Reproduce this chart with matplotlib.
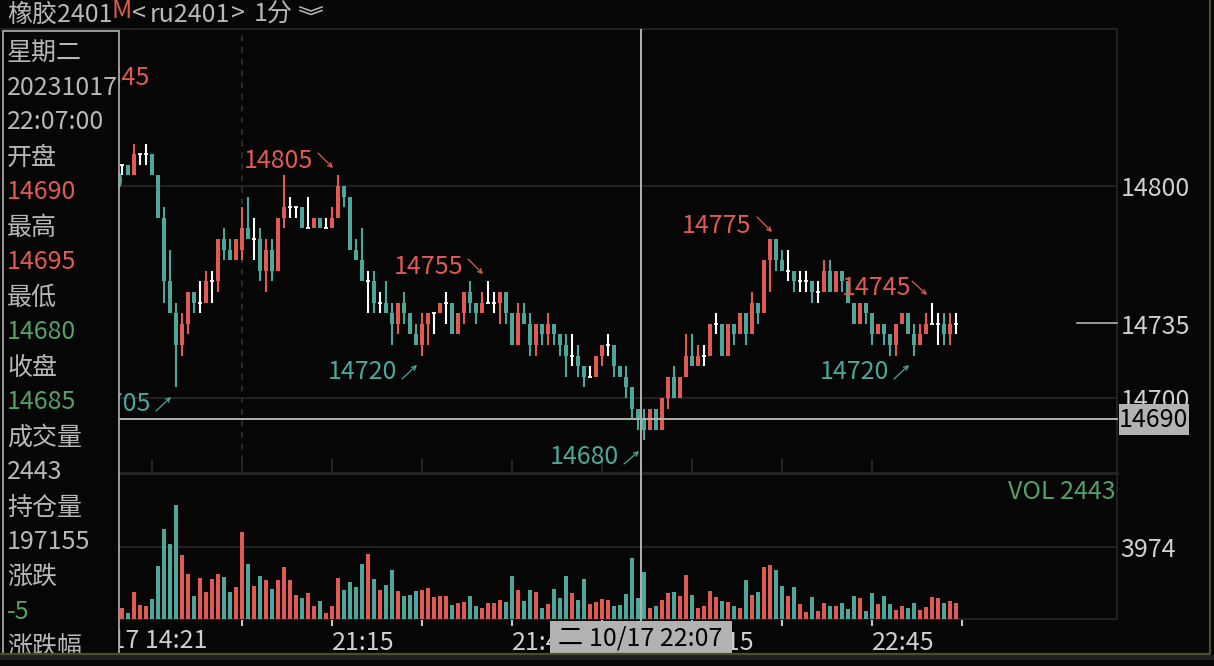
import matplotlib
matplotlib.use("Agg")
import matplotlib.pyplot as plt
from matplotlib.patches import Rectangle

plt.rcParams['font.family'] = ['Noto Sans CJK SC', 'DejaVu Sans']

opens = [14810,14810,14805,14815,14815,14815,14805,14785,14755,14740,
         14725,14735,14750,14745,14745,14755,14755,14775,14770,14765,
         14770,14780,14775,14775,14760,14770,14760,14785,14790,14790,
         14790,14780,14780,14785,14780,14780,14785,14800,14795,14770,
         14765,14755,14755,14745,14745,14740,14735,14745,14740,14730,
         14725,14735,14740,14740,14745,14745,14730,14740,14750,14745,
         14740,14745,14745,14745,14750,14740,14725,14740,14735,14725,
         14735,14730,14735,14730,14725,14720,14720,14715,14710,14710,
         14720,14725,14725,14715,14710,14705,14695,14690,14685,14695,
         14685,14700,14710,14700,14710,14720,14715,14720,14720,14735,
         14735,14720,14735,14730,14740,14730,14745,14740,14765,14775,
         14765,14760,14760,14755,14755,14755,14750,14750,14760,14750,
         14760,14755,14745,14735,14745,14740,14730,14735,14730,14725,
         14735,14740,14730,14725,14730,14735,14735,14735,14730,14735]
highs = [14810,14810,14820,14815,14820,14815,14805,14790,14770,14745,
         14740,14750,14750,14755,14760,14760,14775,14780,14775,14775,
         14790,14795,14785,14780,14775,14775,14785,14805,14795,14790,
         14790,14795,14785,14785,14785,14790,14805,14800,14795,14775,
         14780,14760,14760,14750,14755,14745,14745,14750,14740,14735,
         14740,14740,14740,14745,14750,14745,14740,14750,14755,14745,
         14750,14755,14750,14750,14750,14740,14745,14745,14740,14735,
         14735,14740,14735,14730,14730,14730,14725,14715,14715,14720,
         14725,14730,14725,14715,14715,14705,14695,14695,14695,14695,
         14700,14710,14715,14710,14730,14730,14725,14725,14735,14740,
         14735,14735,14735,14740,14740,14750,14745,14765,14775,14775,
         14770,14770,14760,14760,14760,14755,14755,14765,14765,14760,
         14760,14755,14745,14745,14745,14740,14735,14735,14730,14735,
         14740,14740,14735,14735,14740,14745,14740,14740,14740,14740]
lows = [14805,14805,14805,14810,14810,14805,14785,14745,14740,14705,
        14720,14730,14740,14740,14745,14745,14750,14765,14765,14765,
        14765,14775,14765,14755,14750,14755,14760,14780,14785,14785,
        14780,14780,14780,14780,14780,14780,14785,14790,14770,14765,
        14755,14740,14740,14740,14740,14725,14730,14735,14730,14725,
        14720,14725,14730,14740,14735,14730,14730,14735,14740,14735,
        14740,14745,14740,14735,14735,14725,14725,14735,14720,14720,
        14725,14725,14725,14720,14710,14715,14710,14705,14710,14710,
        14715,14720,14710,14710,14700,14690,14685,14680,14685,14685,
        14685,14695,14700,14700,14710,14715,14715,14715,14720,14730,
        14720,14720,14725,14730,14725,14730,14735,14740,14750,14760,
        14760,14755,14750,14750,14750,14745,14745,14750,14750,14750,
        14750,14745,14735,14735,14735,14725,14730,14725,14720,14720,
        14735,14730,14720,14725,14730,14735,14725,14725,14725,14730]
closes = [14810,14805,14815,14815,14815,14805,14785,14755,14740,14725,
          14735,14750,14745,14745,14755,14755,14775,14770,14765,14775,
          14780,14775,14775,14760,14770,14760,14785,14790,14790,14790,
          14780,14780,14785,14780,14780,14785,14800,14795,14770,14765,
          14755,14755,14745,14745,14740,14735,14745,14740,14730,14725,
          14735,14740,14740,14745,14745,14730,14740,14750,14745,14740,
          14745,14745,14745,14750,14740,14725,14740,14735,14725,14735,
          14730,14735,14730,14725,14720,14720,14715,14710,14710,14720,
          14725,14725,14715,14710,14705,14695,14690,14685,14695,14685,
          14700,14710,14700,14710,14720,14715,14720,14720,14735,14735,
          14720,14735,14730,14740,14730,14745,14740,14765,14775,14765,
          14760,14760,14755,14755,14755,14750,14750,14760,14750,14760,
          14755,14745,14735,14745,14740,14730,14735,14730,14725,14735,
          14740,14730,14725,14730,14735,14735,14735,14730,14735,14735]
volumes = [575,295,1460,740,685,1075,2905,4960,4125,6290,
           3515,2460,1240,2240,1460,2185,2460,2295,1460,1740,
           4790,3015,1795,2350,2130,1630,2130,2850,2130,1295,
           1130,1405,685,960,295,685,2240,1575,2015,1740,
           3015,3570,2185,1575,1850,2680,1515,1240,1295,1515,
           1575,1685,1185,1240,1240,740,850,905,1240,685,
           575,850,850,1020,905,2350,1575,960,1575,1460,
           575,795,1630,1130,2350,1405,1020,2185,795,905,
           1075,1020,685,740,1350,3350,1130,2570,575,685,
           1020,1405,1460,1240,2405,1295,575,685,1515,1185,
           960,905,685,575,2130,1295,1460,2850,2960,2680,
           1795,1240,1740,795,350,1185,405,850,685,685,
           850,520,1240,1130,405,1405,795,1240,795,460,
           685,575,850,460,630,1185,1130,850,960,850]

price_ticks = [14800, 14735, 14700]
price_grid = [14800, 14700]
vol_grid = [3974]
main_ticks = [5, 20, 35, 50, 65, 80, 95, 110, 125]
vol_ticks = [20, 35, 50, 65, 80, 95, 110, 125, 140]
vol_tick_labels = ['', '21:15', '', '21:45', '', '22:15', '', '22:45', '']
panel_rows = [('星期二', 'g'), ('20231017', 'g'), ('22:07:00', 'g'),
              ('开盘', 'g'), ('14690', 'r'), ('最高', 'g'), ('14695', 'r'),
              ('最低', 'g'), ('14680', 'n'), ('收盘', 'g'), ('14685', 'n'),
              ('成交量', 'g'), ('2443', 'g'), ('持仓量', 'g'), ('197155', 'g'),
              ('涨跌', 'g'), ('-5', 'n'), ('涨跌幅', 'g')]
panel_y = [53, 88, 122, 158, 192, 228, 262, 298, 332, 368, 402, 438, 472, 508, 542, 578, 612, 648]

BG = '#060606'
RED = '#e05a52'
TEAL = '#4da69a'
GREEN = '#54a066'
GRAY = '#b8b8b8'
LIGHT = '#cfcfcf'
LINE = '#222222'
CROSS = '#b2b2b2'
OLIVE = '#4c4c2a'
W, H = 1214, 666
FS = 18


def axes_px(fig, x0, y0, x1, y1):
    # pixel box, y from the top
    return fig.add_axes([x0 / W, 1 - y1 / H, (x1 - x0) / W, (y1 - y0) / H])


fig = plt.figure(figsize=(W / 100, H / 100), dpi=100, facecolor=BG)

# candles, x = 122 + 6 * i pixels
ax = axes_px(fig, 119, 30, 1117, 473)
ax.set_facecolor(BG)
ax.set_xlim(-0.5, 165.83)
ax.set_ylim(14800 - (473 - 186) / 2.12, 14800 + (186 - 30) / 2.12)
for p in price_grid:
    ax.axhline(p, color=LINE, lw=1.4, zorder=1)
ax.vlines(20, ax.get_ylim()[0], ax.get_ylim()[1], color='#2c2c2c', lw=1.4,
          linestyles=(0, (3, 3)), zorder=1)
for i in range(len(opens)):
    o, h, l, c = opens[i], highs[i], lows[i], closes[i]
    if o == c:
        col = '#ffffff'
    elif c > o:
        col = RED
    else:
        col = TEAL
    ax.vlines(i, l, h, color=col, lw=1.5, zorder=3)
    if o == c:
        ax.hlines(o, i - 0.33, i + 0.33, color=col, lw=1.3, zorder=3)
    else:
        ax.bar(i, abs(c - o), bottom=min(o, c), width=0.667, color=col, linewidth=0, zorder=3)
ax.set_xticks(main_ticks)
ax.set_xticklabels([])
ax.tick_params(axis='x', direction='in', length=10, width=1.4, color='#262626')
ax.set_yticks(price_ticks)
ax.set_yticklabels([str(p) for p in price_ticks])
ax.tick_params(axis='y', left=False, labelleft=False, right=False, labelright=True,
               length=0, pad=2.5, labelsize=FS, labelcolor=LIGHT)
for label in ax.get_yticklabels():
    label.set_y(label.get_position()[1])
for s in ['top', 'left']:
    ax.spines[s].set_visible(False)
ax.spines['right'].set_color(LINE)
ax.spines['right'].set_linewidth(1.4)
ax.spines['bottom'].set_color(LINE)
ax.spines['bottom'].set_linewidth(2.4)

# volume
vx = axes_px(fig, 119, 475, 1117, 618.5)
vx.set_facecolor(BG)
vx.set_xlim(-0.5, 165.83)
vx.set_ylim(0, 7960)
for v in vol_grid:
    vx.axhline(v, color=LINE, lw=1.4, zorder=1)
vol_cols = [RED if closes[i] >= opens[i] else TEAL for i in range(len(opens))]
vx.bar(range(len(volumes)), volumes, width=0.667, color=vol_cols, linewidth=0, zorder=3)
vx.set_xticks(vol_ticks)
vx.set_xticklabels(vol_tick_labels, ha='left', fontsize=FS, color=LIGHT)
vx.tick_params(axis='x', length=5, width=1.4, color=LIGHT, pad=3)
vx.set_yticks(vol_grid)
vx.set_yticklabels([str(v) for v in vol_grid])
vx.tick_params(axis='y', left=False, labelleft=False, right=False, labelright=True,
               length=0, pad=2.5, labelsize=FS, labelcolor=LIGHT)
for s in ['top', 'left']:
    vx.spines[s].set_visible(False)
for s in ['right', 'bottom']:
    vx.spines[s].set_color(LINE)
    vx.spines[s].set_linewidth(1.4)

# everything else in pixel coordinates on a see-through layer
ov = fig.add_axes([0, 0, 1, 1], zorder=10)
ov.patch.set_alpha(0)
ov.set_xlim(0, W)
ov.set_ylim(H, 0)
ov.axis('off')


def txt(x, y, s, color=GRAY, z=5, **kw):
    ov.text(x, y, s, color=color, fontsize=FS, va='center', zorder=z, **kw)


def arrow(x0, y0, x1, y1, color):
    ov.annotate('', xy=(x1, y1), xytext=(x0, y0), zorder=5,
                arrowprops=dict(arrowstyle='->,head_length=0.3,head_width=0.15', color=color,
                                lw=0.9, shrinkA=0, shrinkB=0))


# top line
ov.plot([0, 1117], [29, 29], color=LINE, lw=1.4, zorder=2)
txt(7, 15, '橡胶2401')
txt(112, 11, 'M', color=RED)
txt(132, 15, '<')
txt(150, 15, 'ru2401')
txt(231, 15, '>')
txt(254, 15, '1分')
ov.plot([300, 311, 322], [7, 11, 7], color=GRAY, lw=1.1, zorder=5)
ov.plot([300, 311, 322], [10.5, 14.5, 10.5], color=GRAY, lw=1.1, zorder=5)

# high/low labels
for s, x, y, col in [('14805', 244, 161, RED), ('14755', 394, 267, RED), ('14775', 682, 226, RED),
                     ('14745', 842, 288, RED), ('14720', 328, 372, TEAL), ('14720', 820, 372, TEAL),
                     ('14680', 550, 457, TEAL), ('14705', 82, 404, TEAL), ('14845', 81, 78, RED),
                     ('14800', 55, 182, TEAL)]:
    txt(x, y, s, color=col)
arrow(318, 153, 333, 168, RED)
arrow(468, 259, 483, 274, RED)
arrow(757, 217, 772, 232, RED)
arrow(912, 281, 927, 295, RED)
arrow(402, 379, 417, 365, TEAL)
arrow(894, 379, 909, 365, TEAL)
arrow(624, 464, 639, 451, TEAL)
arrow(156, 411, 171, 397, TEAL)

# crosshair and last price
ov.plot([641, 641], [30, 620], color=CROSS, lw=1.4, zorder=6)
ov.plot([119, 1117], [419, 419], color=CROSS, lw=1.4, zorder=6)
ov.plot([1077, 1117], [323, 323], color=CROSS, lw=1.2, zorder=6)
ov.add_patch(Rectangle((1119, 404), 70, 31, facecolor=CROSS, edgecolor='none', zorder=7))
txt(1119, 420, '14690', color='#000000', z=8)
txt(1116, 492, 'VOL 2443', color=GREEN, ha='right')

# time box
txt(207, 640, '10/17 14:21', color=LIGHT, z=4, ha='right')
ov.add_patch(Rectangle((550, 621), 182, 32, facecolor=CROSS, edgecolor='none', zorder=7))
txt(558, 638, '二', color='#000000', z=8)
txt(589, 638, '10/17 22:07', color='#000000', z=8)

# left panel
ov.add_patch(Rectangle((2.5, 30.5), 116, 640, facecolor=BG, edgecolor=CROSS, lw=1.2, zorder=9))
cmap = {'g': GRAY, 'r': RED, 'n': GREEN}
for (s, k), y in zip(panel_rows, panel_y):
    txt(7, y, s, color=cmap[k], z=10)

# bottom and right window edge
ov.add_patch(Rectangle((0, 654), W, 12, facecolor=BG, edgecolor='none', zorder=11))
ov.add_patch(Rectangle((0, 655), W, 5, facecolor='#1f1f1f', edgecolor='none', zorder=12))
ov.plot([0, 1210, 1210], [653.5, 653.5, 0], color=OLIVE, lw=1.6, zorder=13)

fig.savefig('out.png', dpi=100, facecolor=BG)
